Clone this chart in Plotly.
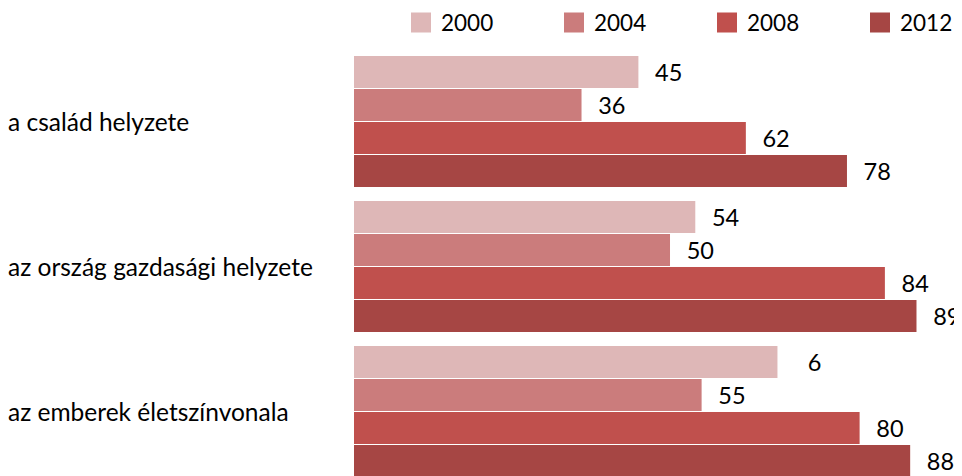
import plotly.graph_objects as go

categories = ["a család helyzete", "az ország gazdasági helyzete", "az emberek életszínvonala"]
years = ["2000", "2004", "2008", "2012"]
values = {
    "2000": [45, 54, 67],
    "2004": [36, 50, 55],
    "2008": [62, 84, 80],
    "2012": [78, 89, 88],
}
labels = {
    "2000": ["45", "54", "6"],
    "2004": ["36", "50", "55"],
    "2008": ["62", "84", "80"],
    "2012": ["78", "89", "88"],
}
colors = {"2000": "#DEB7B7", "2004": "#CB7C7C", "2008": "#C0504D", "2012": "#A64644"}

FONT = "Lato, 'Open Sans', sans-serif"
FS = 23.5
FIG = "\u2007"

fig = go.Figure()
for yr in years:
    fig.add_trace(go.Bar(
        y=categories, x=values[yr], orientation="h", name=yr,
        marker=dict(color=colors[yr], line=dict(width=0)),
        text=[FIG + t.rjust(2, FIG) for t in labels[yr]],
        texttemplate="%{text}", textposition="outside",
        textfont=dict(family=FONT, size=FS, color="#000000"),
        cliponaxis=False, constraintext="none",
        showlegend=False, hoverinfo="skip",
    ))
    fig.add_trace(go.Scatter(
        x=[None], y=[None], mode="markers", name=yr,
        marker=dict(symbol="square", size=16, color=colors[yr],
                    line=dict(width=4, color=colors[yr])),
        showlegend=True,
    ))

for c in categories:
    fig.add_annotation(
        x=0, xref="paper", y=c, yref="y", text=c, showarrow=False,
        xanchor="left", xshift=-348, yanchor="middle",
        font=dict(family=FONT, size=24.5, color="#000000"),
    )

# page body adds an 8px offset; figure sized to fill the remaining window
fig.update_layout(
    width=954, height=468,
    margin=dict(l=346, r=0, t=41, b=0, autoexpand=False),
    paper_bgcolor="white", plot_bgcolor="white",
    barmode="group", bargap=0.09, bargroupgap=0.03,
    font=dict(family=FONT, size=FS, color="#000000"),
    xaxis=dict(range=[0, 96.2], visible=False, fixedrange=True),
    yaxis=dict(type="category", categoryorder="array", categoryarray=categories,
               range=[2.445, -0.5], showticklabels=False, showgrid=False,
               zeroline=False, showline=False, ticks=""),
    legend=dict(orientation="h", x=0.0773, xanchor="left", y=1.0609, yanchor="middle",
                font=dict(family=FONT, size=22.5), entrywidth=108, entrywidthmode="pixels",
                itemclick=False, itemdoubleclick=False, bgcolor="rgba(0,0,0,0)"),
    showlegend=True,
)

fig.write_html("out.html")
